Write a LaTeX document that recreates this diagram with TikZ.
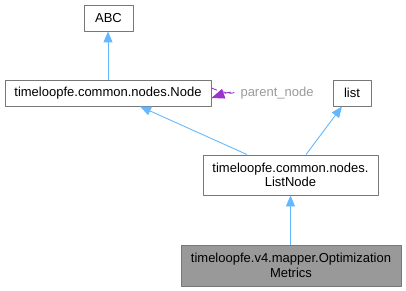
\documentclass[tikz,border=0pt]{standalone}
\usepackage{fontspec}
\setmainfont{Liberation Sans}
\usetikzlibrary{arrows.meta}
\definecolor{edgeblue}{HTML}{63B8FF}
\definecolor{edgepurple}{HTML}{9A32CD}
\definecolor{boxline}{HTML}{777777}
\definecolor{boxfill}{HTML}{999999}
\definecolor{labelgray}{HTML}{9A9A9A}
\tikzset{
  cls/.style={draw=boxline, fill=white, line width=0.9pt, inner sep=0pt, minimum height=26pt, align=center},
  inherit/.style={draw=edgeblue, line width=0.9pt, -{Triangle[length=11pt,width=9pt]}},
  usage/.style={draw=edgepurple, line width=0.9pt, dash pattern=on 6pt off 3pt, -{Triangle[length=13pt,width=10pt]}},
}
\begin{document}
\begin{tikzpicture}[x=1pt, y=-1pt, font=\fontsize{13}{14.5}\selectfont, line join=round, >=stealth]
	\useasboundingbox (0,0) rectangle (406,291);
	% class boxes
	\node[cls, minimum width=206pt] (Node) at (108,93) {timeloopfe.common.nodes.Node};
	\node[cls, minimum width=49pt] (ABC) at (108.5,18) {ABC};
	\node[cls, minimum width=38pt] (list) at (352,93) {list};
	\node[cls, minimum width=175pt, minimum height=40pt] (ListNode) at (290.5,175) {timeloopfe.common.nodes.\\ListNode};
	\node[cls, fill=boxfill, minimum width=220pt, minimum height=41pt] (Metrics) at (291,265.5) {timeloopfe.v4.mapper.Optimization\\Metrics};
	% inheritance
	\draw[inherit] (Node.north) -- (Node.north |- ABC.south);
	\draw[inherit] ([xshift=-43.5pt]ListNode.north) -- ([xshift=32pt]Node.south);
	\draw[inherit] ([xshift=15.5pt]ListNode.north) -- ([xshift=-10pt]list.south);
	\draw[inherit] (Metrics.north -| ListNode.south) -- (ListNode.south);
	% member reference to itself
	\draw[usage] ([yshift=5pt]Node.east) .. controls (238,99) and (240,88) .. ([yshift=-5pt]Node.east);
	\node[text=labelgray, anchor=west] (parentlbl) at (237,93) {parent\_node};
\end{tikzpicture}
\end{document}
